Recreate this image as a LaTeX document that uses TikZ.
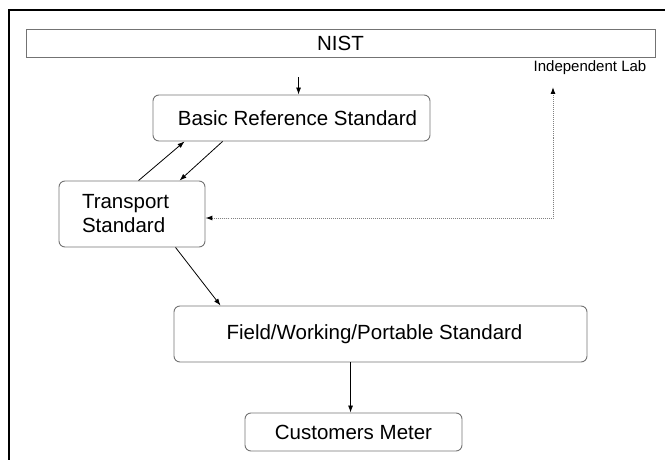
\documentclass[tikz,border=0pt]{standalone}
\usepackage{fontspec}
\setmainfont{Liberation Sans}
\usetikzlibrary{arrows.meta}
\usetikzlibrary{calc}
\definecolor{boxgray}{rgb}{0.45, 0.45, 0.45}
\definecolor{dotgray}{rgb}{0.5, 0.5, 0.5}
\tikzset{
	stdbox/.style={draw=boxgray, line width=0.9pt, rounded corners=6pt, inner sep=0pt, font=\fontsize{20.5}{24}\selectfont},
	flow/.style={line width=0.8pt, -{Latex[length=7pt,width=5pt]}},
	labflow/.style={dotgray, line width=1pt, densely dotted, {Latex[length=7pt,width=5pt,color=black]}-{Latex[length=7pt,width=5pt,color=black]}}
}

\begin{document}
\begin{tikzpicture}[x=1pt, y=-1pt]
						\useasboundingbox (0,0) rectangle (665,460);

						% frame
						\draw[line width=1.5pt] (9,460) -- (9,10) -- (665,10);

						\node[stdbox, rounded corners=0pt, minimum width=629pt, minimum height=28pt] (nist) at (340.5,43) {NIST};
						\node[font=\fontsize{15}{18}\selectfont, inner sep=0pt] (lab) at (590,68) {Independent Lab};
						\coordinate (labin) at (553,87);

						\node[stdbox, minimum width=277pt, minimum height=46pt] (basic) at (291.5,118) {\hspace{12pt}Basic Reference Standard};
						\node[stdbox, text width=100pt, inner xsep=23pt, minimum height=66pt, align=left] (trans) at (132,214) {Transport\\Standard};
						\node[stdbox, minimum width=413pt, minimum height=56pt] (field) at (380.5,334) {\hspace{-12pt}Field/Working/Portable Standard};
						\node[stdbox, minimum width=217pt, minimum height=38pt] (cust) at (353.5,432) {Customers Meter};

						\draw[flow] ($(nist.south west)+(273pt,-20pt)$) -- ($(basic.north west)+(146pt,0)$);
						\draw[flow] ($(trans.north west)+(80pt,0)$) -- ($(basic.south west)+(32pt,0)$);
						\draw[flow] ($(basic.south west)+(70pt,0)$) -- ($(trans.north west)+(121pt,0)$);
						\draw[labflow] (labin) |- ([yshift=-4pt]trans.east);
						\draw[flow] ($(trans.south west)+(117pt,0)$) -- ($(field.north west)+(47pt,0)$);
						\draw[flow] ($(field.south west)+(177pt,0)$) -- ($(cust.north west)+(106pt,0)$);
					\end{tikzpicture}
\end{document}
